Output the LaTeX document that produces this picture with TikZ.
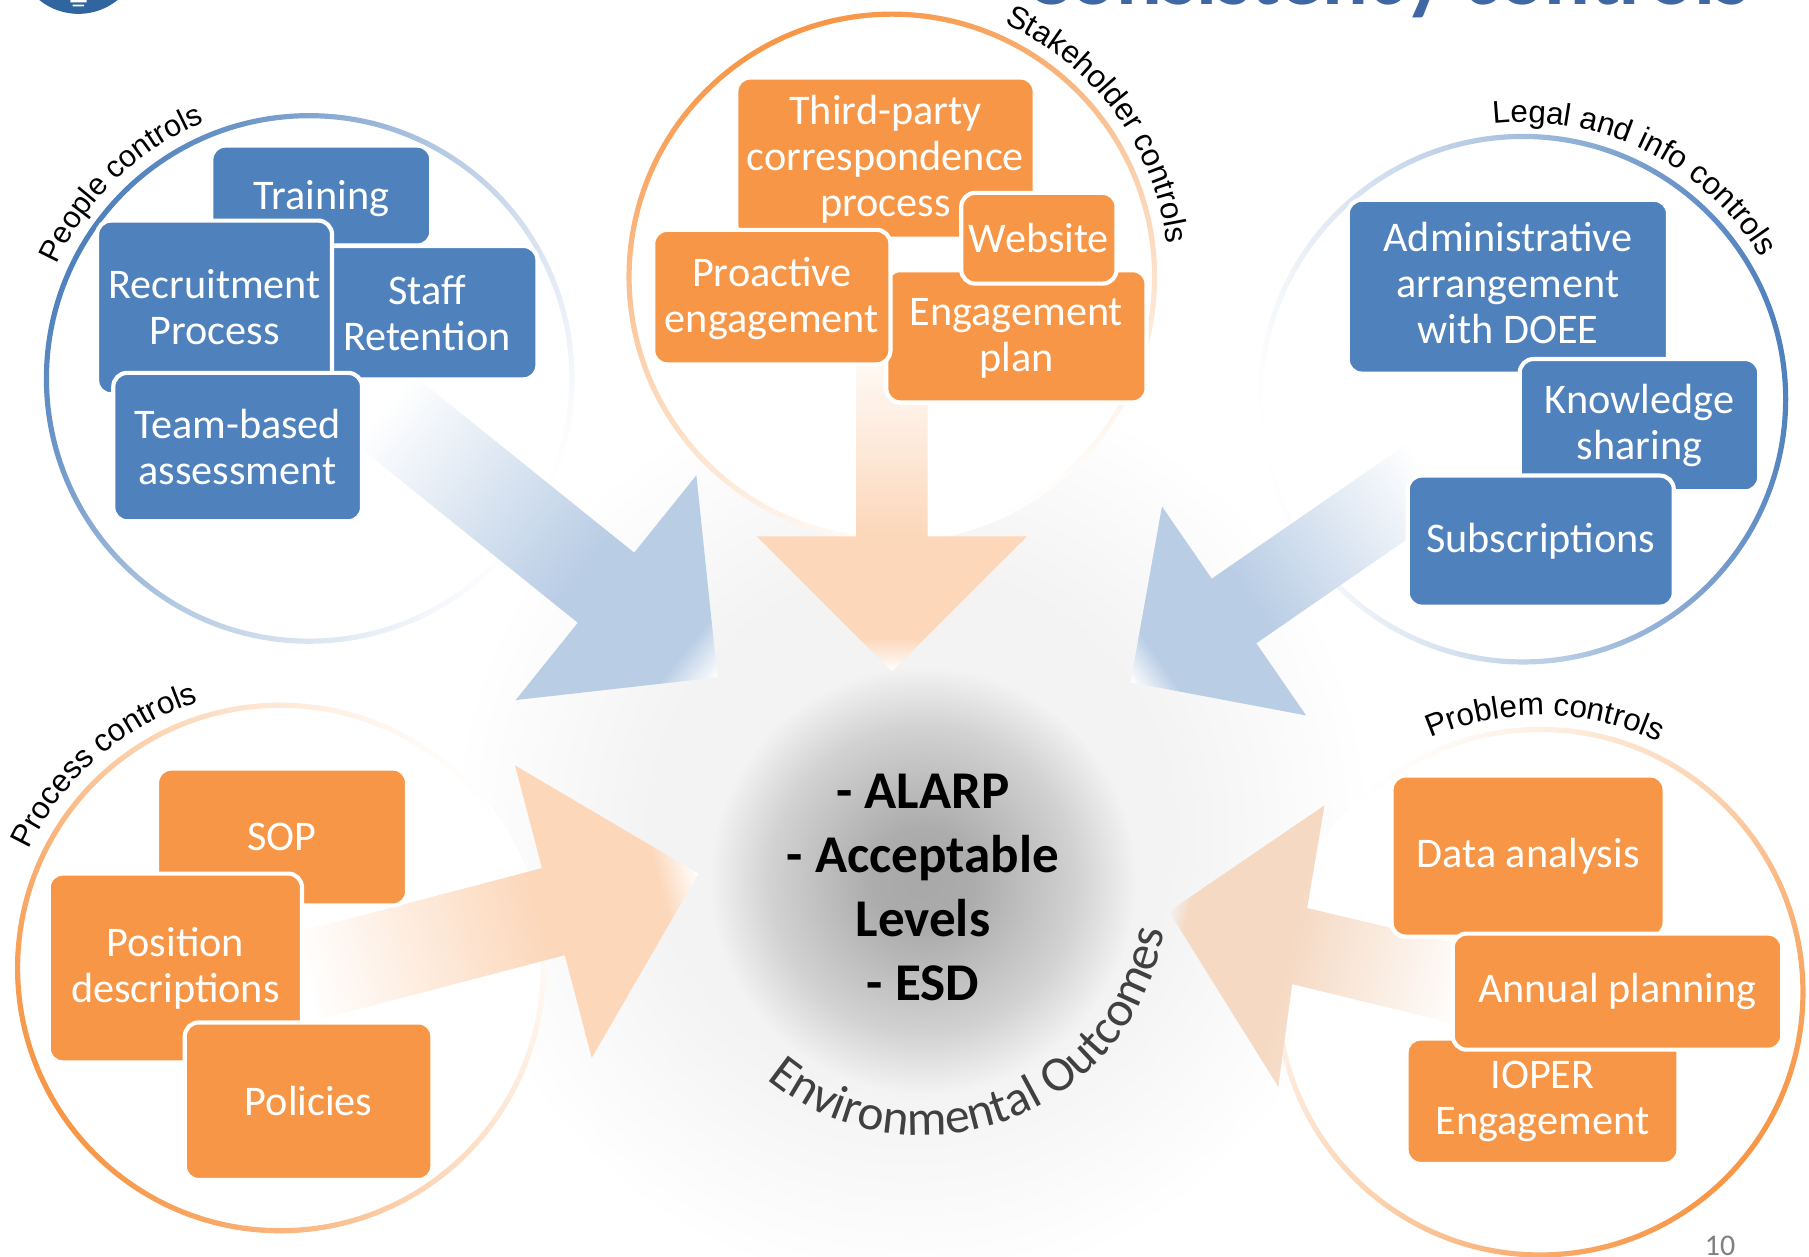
\documentclass[tikz,border=0pt]{standalone}
\usepackage{fontspec}
\setmainfont{Carlito}
\newfontfamily\arcfont{Liberation Sans}
\usetikzlibrary{decorations.text}
\definecolor{orangebox}{HTML}{F79646}
\definecolor{bluebox}{HTML}{4F81BD}
\definecolor{bluearrow}{HTML}{B9CDE5}
\definecolor{orangearrow}{HTML}{FCD7BA}
\definecolor{tanarrow}{HTML}{F5D9C3}
\definecolor{glowgray}{HTML}{F3F3F3}
\definecolor{spotcore}{HTML}{A8A8A8}
\definecolor{spotnear}{HTML}{ACACAC}
\definecolor{spotmid}{HTML}{D2D2D2}
\definecolor{titleblue}{HTML}{3F67A3}
\definecolor{logoblue}{HTML}{30659F}
\pgfdeclarehorizontalshading{bluearrowshade}{100bp}{color(0bp)=(white); color(25bp)=(white); color(55bp)=(bluearrow); color(70bp)=(bluearrow); color(75bp)=(white); color(100bp)=(white)}
\pgfdeclarehorizontalshading{orangearrowshade}{100bp}{color(0bp)=(white); color(25bp)=(white); color(55bp)=(orangearrow); color(70bp)=(orangearrow); color(75bp)=(white); color(100bp)=(white)}
\pgfdeclarehorizontalshading{tanarrowshade}{100bp}{color(0bp)=(white); color(25bp)=(white); color(55bp)=(tanarrow); color(72bp)=(tanarrow); color(75bp)=(glowgray); color(100bp)=(glowgray)}
\pgfdeclareradialshading{glowshade}{\pgfpointorigin}{color(0bp)=(glowgray); color(14bp)=(glowgray); color(25bp)=(white); color(50bp)=(white)}
\pgfdeclareradialshading{spotshade}{\pgfpointorigin}{color(0bp)=(spotcore); color(6bp)=(spotnear); color(18bp)=(spotmid); color(25bp)=(glowgray); color(50bp)=(glowgray)}
\tikzset{
  orangecard/.style={rectangle,rounded corners=6pt,fill=orangebox,draw=white,line width=1.8pt,inner sep=0pt,align=center,text=white,font=\fontsize{18.3}{20}\selectfont},
  bluecard/.style={orangecard,fill=bluebox},
  ringlabel/.style={decorate,decoration={text along path,text align={align=center},text={|\arcfont\fontsize{13.6}{15}\selectfont|#1}}},
  smallringlabel/.style={decorate,decoration={text along path,text align={align=center},text={|\arcfont\fontsize{13.2}{15}\selectfont|#1}}}
}
\newcommand\card[7]{\node[#2,minimum width={(#5-#3)*0.5pt+1.8pt},minimum height={(#6-#4)*0.5pt+1.8pt}] (#1) at ({(#3+#5)/2},{(#4+#6)/2}) {#7};}
\newcommand\ringshape[4]{%
  \fill[white] (#1,#2) circle[radius=229];
  \path[even odd rule,top color=#3,bottom color=white,middle color=#3!42,shading angle=#4] (#1,#2) circle[radius=230] (#1,#2) circle[radius=225.5];}
\newcommand\blockarrow[8]{%
  \begin{scope}[transform canvas={shift={(#1,#2)},rotate=#3}]
  \shade[shading=#8] (0,-#7)--({#4-#5},-#7)--({#4-#5},-#6)--(#4,0)--({#4-#5},#6)--({#4-#5},#7)--(0,#7)--cycle;
  \end{scope}}
\newcommand\ringtext[6]{%
  \path[ringlabel={#6}] ({#1+#3*cos(#4)},{#2-#3*sin(#4)}) arc[start angle=-#4,end angle=-#5,radius=#3];}
\begin{document}
\begin{tikzpicture}[x=0.5pt,y=-0.5pt]
\useasboundingbox (0,0) rectangle (1568,1088.7);
\clip (0,0) rectangle (1568,1088.7);
\fill[white] (0,0) rectangle (1568,1088.7);
% background glow
\shade[shading=glowshade] (790,720) circle[radius=400];
% title and logo, cut by the page
\fill[logoblue] (68,-42) circle[radius=54];
\fill[white] (61,0) rectangle (75,2) (63,4) rectangle (73,5.5);
\node[anchor=base east,inner sep=0pt,text=titleblue,font=\fontsize{37}{42}\selectfont\bfseries] (title) at (1517,3.5) {Consistency controls};
% rings
\ringshape{268}{328}{bluebox}{60}
\ringshape{773}{240}{orangebox}{20}
\ringshape{1320}{346}{bluebox}{-80}
\ringshape{243}{839}{orangebox}{120}
\ringshape{1335}{860}{orangebox}{-130}
% centre
\shade[shading=spotshade] (800,763) circle[radius=185];
% arrows
\blockarrow{332}{354}{-38.8}{372}{124}{125}{39}{bluearrowshade}
\blockarrow{773}{290}{-90}{292}{117}{117}{31}{orangearrowshade}
\blockarrow{1240}{412}{214.6}{316}{109}{110}{34}{bluearrowshade}
\blockarrow{263}{847}{14.7}{354}{130}{131}{39}{orangearrowshade}
\begin{scope}[transform canvas={shift={(1276,856)},rotate=166.4}]
\shade[shading=tanarrowshade] (0,-34)--(152.3,-33.8)--(143.1,-123.1)--(271,2.4)--(161.5,123.5)--(155.2,33.4)--(0,34)--cycle;
\end{scope}
% people
\card{training}{bluecard}{185}{128}{372}{211}{\raisebox{0pt}[0.65em][0pt]{Training}}
\card{staff}{bluecard}{276}{215}{464}{327}{Staff\\Retention}
\card{recruit}{bluecard}{86}{193}{286}{340}{Recruitment\\Process}
\card{team}{bluecard}{100}{325}{312}{450}{Team-based\\assessment}
% stakeholder
\card{third}{orangecard}{640}{69}{895}{205}{\rule{0pt}{14pt}Third-party\\correspondence\\process}
\card{engplan}{orangecard}{770}{236}{992}{347}{\rule{0pt}{13.5pt}Engagement\\plan}
\card{proactive}{orangecard}{568}{201}{770}{314}{\rule{0pt}{14pt}Proactive\\engagement}
\card{website}{orangecard}{835}{169}{966}{244}{Website}
% legal
\card{admin}{bluecard}{1170}{175}{1444}{322}{Administrative\\arrangement\\with DOEE\rule[-3.5pt]{0pt}{0pt}}
\card{knowledge}{bluecard}{1319}{313}{1523}{424}{Knowledge\\sharing}
\card{subs}{bluecard}{1222}{414}{1449}{524}{Subscriptions}
% process
\card{sop}{orangecard}{138}{668}{351}{783}{SOP}
\card{position}{orangecard}{44}{759}{260}{919}{Position\\descriptions}
\card{policies}{orangecard}{162}{888}{373}{1021}{Policies}
% problem
\card{data}{orangecard}{1208}{674}{1441}{810}{Data analysis}
\card{ioper}{orangecard}{1221}{902}{1453}{1007}{IOPER\\Engagement}
\card{annual}{orangecard}{1261}{811}{1543}{908}{Annual planning}
% centre text
\node[align=center,inner sep=0pt,font=\fontsize{23}{27.8}\selectfont\bfseries] (outcomes) at (800,769) {- ALARP\\- Acceptable\\Levels\\- ESD};
% curved labels
\path[smallringlabel={People controls}] ({268+240*cos(155.5)},{328-240*sin(155.5)}) arc[start angle=-155.5,end angle=-112.5,radius=240];
\ringtext{773}{240}{240}{66}{7}{Stakeholder controls}
\ringtext{1320}{346}{240}{96}{31}{Legal and info controls}
\ringtext{243}{839}{241}{154.5}{107.5}{Process controls}
\ringtext{1335}{860}{240}{113}{65}{Problem controls}
\path[decorate,decoration={text along path,text align={align=center},text={|\color{black!75}\fontsize{21.5}{24}\selectfont|Environmental Outcomes}}] ({800+212*cos(231)},{772-212*sin(231)}) arc[start angle=-231,end angle=-350,radius=212];
% page number
\node[inner sep=0pt,text=black!50,font=\fontsize{13}{15}\selectfont] (pagenum) at (1491,1080) {10};
\end{tikzpicture}
\end{document}
